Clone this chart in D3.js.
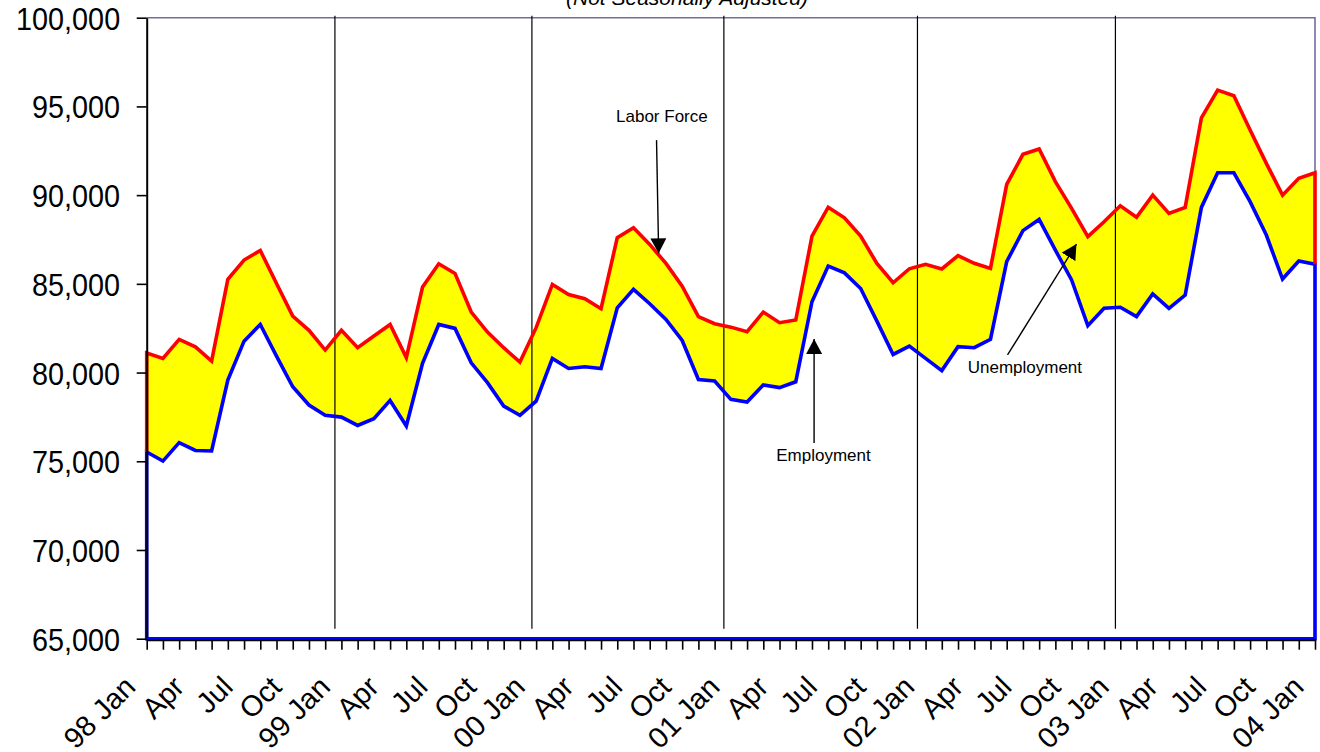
<!DOCTYPE html>
<html>
<head>
<meta charset="utf-8">
<script src="https://cdn.jsdelivr.net/npm/d3@7"></script>
<style>
  html, body { margin: 0; padding: 0; background: #fff; }
  svg { display: block; font-family: "Liberation Sans", Arial, Helvetica, sans-serif; }
</style>
</head>
<body>
<svg id="chart" width="1320" height="752"></svg>
<script>
// Monthly labor force and employment, Jan 1998 – Jan 2004 (not seasonally adjusted)
const tickLabels = [
  "98 Jan", "Apr", "Jul", "Oct",
  "99 Jan", "Apr", "Jul", "Oct",
  "00 Jan", "Apr", "Jul", "Oct",
  "01 Jan", "Apr", "Jul", "Oct",
  "02 Jan", "Apr", "Jul", "Oct",
  "03 Jan", "Apr", "Jul", "Oct",
  "04 Jan"
];

const laborForce = [
  81100, 80800, 81870, 81450, 80650, 85250, 86340, 86880, 85020, 83180, 82380, 81270,
  82380, 81400, 82060, 82710, 80840, 84820, 86130, 85590, 83410, 82280, 81400, 80590,
  82530, 84970, 84400, 84160, 83600, 87600, 88160, 87220, 86150, 84870, 83150, 82750,
  82560, 82300, 83410, 82810, 82960, 87690, 89320, 88720, 87690, 86150, 85060, 85850,
  86100, 85840, 86590, 86160, 85870, 90610, 92300, 92600, 90760, 89250, 87660, 88500,
  89400, 88750, 90000, 88970, 89310, 94360, 95920, 95600, 93670, 91790, 90000, 90950,
  91260
];

const employment = [
  75520, 75010, 76050, 75610, 75580, 79580, 81770, 82710, 80930, 79200, 78170, 77590,
  77490, 77020, 77400, 78430, 76990, 80520, 82710, 82490, 80550, 79430, 78110, 77590,
  78390, 80800, 80230, 80330, 80230, 83650, 84690, 83880, 83000, 81810, 79610, 79520,
  78490, 78340, 79300, 79150, 79480, 83990, 86000, 85620, 84740, 82900, 81020, 81490,
  80800, 80110, 81460, 81400, 81870, 86250, 88000, 88630, 86900, 85220, 82640, 83620,
  83680, 83150, 84430, 83620, 84370, 89310, 91260, 91260, 89630, 87750, 85270, 86290,
  86100
];

const yTicks = [65000, 70000, 75000, 80000, 85000, 90000, 95000, 100000];

// year dividers, in months from Jan 1998
const yearBreaks = [11.6, 23.74, 35.57, 47.5, 59.7];

// callouts: text anchor and arrow (from -> tip) in month index / value units
const callouts = [
  { text: "Labor Force",  tx: 31.75, ty: 94140, from: [31.42, 93100], to: [31.55, 86720] },
  { text: "Employment",   tx: 41.71, ty: 75010, from: [41.13, 76030], to: [41.13, 81890] },
  { text: "Unemployment", tx: 54.12, ty: 79990, from: [53.05, 80990], to: [57.30, 87240] }
];

const svg = d3.select("#chart");
const plot = { left: 146.7, right: 1315, top: 17.7, bottom: 638.7 };

const x = d3.scaleLinear().domain([0, laborForce.length - 1]).range([plot.left, plot.right]);
const y = d3.scaleLinear().domain([65000, 100000]).range([plot.bottom, plot.top]);
const n = laborForce.length;
const idx = d3.range(n);

// title (partially off the top edge)
svg.append("text")
  .attr("x", 687).attr("y", 5)
  .attr("text-anchor", "middle")
  .attr("font-style", "italic")
  .attr("font-size", 21)
  .attr("fill", "#000")
  .text("(Not Seasonally Adjusted)");

// plot frame: top and right edges
svg.append("path")
  .attr("d", `M${plot.left},${plot.top}H${plot.right}V${plot.bottom}`)
  .attr("fill", "none")
  .attr("stroke", "#6e6ea0")
  .attr("stroke-width", 1.6);

// unemployment band between employment and labor force
const band = d3.area()
  .x(i => x(i))
  .y0(i => y(employment[i]))
  .y1(i => y(laborForce[i]));
svg.append("path")
  .attr("d", band(idx))
  .attr("fill", "#ffff00");

// year dividers
svg.append("g").selectAll("line")
  .data(yearBreaks)
  .join("line")
  .attr("x1", d => x(d)).attr("x2", d => x(d))
  .attr("y1", plot.top - 2).attr("y2", plot.bottom - 10)
  .attr("stroke", "#000")
  .attr("stroke-width", 1.2);

// employment outline (closed to the axis floor)
const empLine = d3.line().x(d => x(d[0])).y(d => y(d[1]));
const empPts = [[0, 65000]].concat(idx.map(i => [i, employment[i]]), [[n - 1, 65000]]);
svg.append("path")
  .attr("d", empLine(empPts) + "Z")
  .attr("fill", "none")
  .attr("stroke", "#0000ff")
  .attr("stroke-width", 3.6)
  .attr("stroke-linejoin", "miter");

// labor force outline with its vertical end caps
const lfPts = [[0, employment[0]]].concat(idx.map(i => [i, laborForce[i]]), [[n - 1, employment[n - 1]]]);
svg.append("path")
  .attr("d", empLine(lfPts))
  .attr("fill", "none")
  .attr("stroke", "#ff0000")
  .attr("stroke-width", 3.6)
  .attr("stroke-linejoin", "miter");

// y axis
const yAxis = svg.append("g")
  .attr("transform", `translate(${plot.left},0)`)
  .call(d3.axisLeft(y).tickValues(yTicks).tickSize(10).tickSizeOuter(0).tickFormat(d3.format(",")));
yAxis.select(".domain").attr("stroke", "#000").attr("stroke-width", 2);
yAxis.selectAll(".tick line").attr("stroke", "#000").attr("stroke-width", 1.6);
yAxis.selectAll(".tick text")
  .attr("x", -29.5)
  .attr("dy", "0.36em")
  .attr("font-size", 32)
  .attr("transform", "scale(0.9,1)")
  .attr("font-family", "'Liberation Sans', Arial, sans-serif")
  .attr("fill", "#000");

// x axis: a tick per month, a label every quarter
const xAxis = svg.append("g")
  .attr("transform", `translate(0,${plot.bottom + 1})`)
  .call(d3.axisBottom(x).tickValues(idx).tickSize(10).tickSizeOuter(0)
    .tickFormat(i => (i % 3 === 0 ? tickLabels[i / 3] : "")));
xAxis.select(".domain").attr("stroke", "#000").attr("stroke-width", 2);
xAxis.selectAll(".tick line").attr("stroke", "#000").attr("stroke-width", 1.6);
xAxis.selectAll(".tick text")
  .attr("x", 0).attr("y", 0).attr("dy", null)
  .attr("text-anchor", "end")
  .attr("transform", "translate(-10,49) rotate(-45)")
  .attr("font-size", 29)
  .attr("font-family", "'Liberation Sans', Arial, sans-serif")
  .attr("fill", "#000");

// redraw the employment floor over the axis line
svg.append("line")
  .attr("x1", x(0)).attr("x2", x(n - 1))
  .attr("y1", y(65000) - 0.5).attr("y2", y(65000) - 0.5)
  .attr("stroke", "#0000ff").attr("stroke-width", 2);

// callouts
const defs = svg.append("defs");
defs.append("marker")
  .attr("id", "head")
  .attr("markerUnits", "userSpaceOnUse")
  .attr("viewBox", "0 -8 16 16")
  .attr("refX", 15).attr("refY", 0)
  .attr("markerWidth", 16).attr("markerHeight", 16)
  .attr("orient", "auto")
  .append("path")
  .attr("d", "M0,-8L15,0L0,8Z")
  .attr("fill", "#000");

const cg = svg.append("g");
cg.selectAll("line")
  .data(callouts)
  .join("line")
  .attr("x1", d => x(d.from[0])).attr("y1", d => y(d.from[1]))
  .attr("x2", d => x(d.to[0])).attr("y2", d => y(d.to[1]))
  .attr("stroke", "#000")
  .attr("stroke-width", 1.4)
  .attr("marker-end", "url(#head)");
cg.selectAll("text")
  .data(callouts)
  .join("text")
  .attr("x", d => x(d.tx)).attr("y", d => y(d.ty))
  .attr("text-anchor", "middle")
  .attr("font-size", 17)
  .attr("fill", "#000")
  .text(d => d.text);
</script>
</body>
</html>
